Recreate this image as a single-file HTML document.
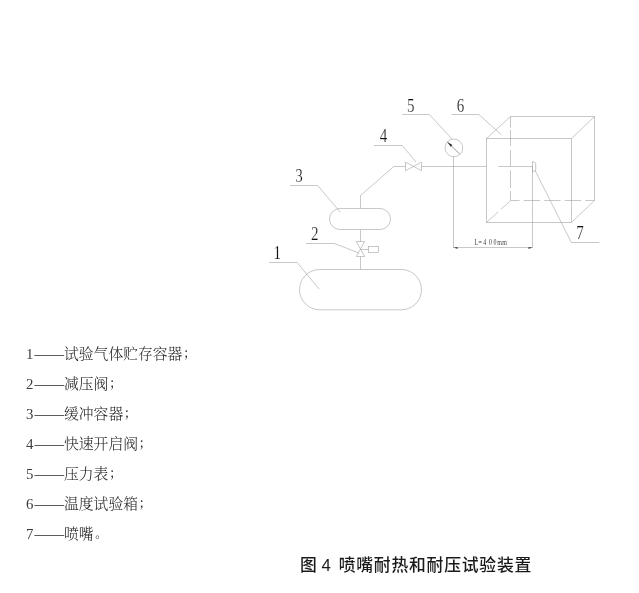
<!DOCTYPE html>
<html lang="zh-CN">
<head>
<meta charset="utf-8">
<title>图 4 喷嘴耐热和耐压试验装置</title>
<style>
html,body{margin:0;padding:0;background:#fff;}
body{width:639px;height:593px;position:relative;overflow:hidden;}
svg{position:absolute;left:0;top:0;will-change:transform;}
.ln{fill:none;stroke:#a2a2a2;stroke-width:0.6;}
.num{font-family:"Liberation Serif","Noto Serif CJK SC",serif;font-size:19.3px;fill:#111;stroke:#fff;stroke-width:0.22px;paint-order:fill stroke;}
.dim{font-family:"Liberation Serif","Noto Serif CJK SC",serif;font-size:9px;fill:#3a3a3a;}
.leg{position:absolute;left:27px;margin:0;white-space:nowrap;font-family:"Liberation Serif","Noto Serif CJK SC",serif;font-size:14.8px;line-height:20px;color:#222;font-weight:300;will-change:transform;}
.cap{position:absolute;left:300.4px;top:553.9px;margin:0;white-space:nowrap;font-family:"Liberation Sans","Noto Sans CJK SC",sans-serif;font-size:16.8px;letter-spacing:0.8px;line-height:24px;color:#1a1a1a;font-weight:500;will-change:transform;}
.cap span{display:inline-block;width:10px;margin:0 2.13px 0 -1.97px;letter-spacing:0;text-align:center;}
.leg b{font-weight:inherit;color:#3c3c3c;margin:0 1px 0 -1px;}
.leg i{font-style:normal;display:inline-block;font-size:12px;font-weight:500;width:15px;position:relative;left:0.8px;top:-1.2px;}
.leg i.d{left:1.6px;top:-0.6px;}
</style>
</head>
<body>
<svg width="639" height="593" viewBox="0 0 639 593">
<g class="ln">
<!-- tank 1 -->
<rect x="299.5" y="269.5" width="122" height="40.3" rx="20.15" ry="20.15"/>
<!-- pipe tank1 - valve2 - tank3 -->
<path d="M360.5 269.5V256.5M360.5 241.5V229.5"/>
<!-- valve 2 -->
<path d="M356.3 241.5H364.6L356.3 256.5H364.6Z"/>
<path d="M360.5 249.5H368.5"/>
<rect x="368.5" y="246.5" width="10" height="6"/>
<!-- tank 3 -->
<rect x="329.5" y="208.5" width="61" height="21" rx="10.5" ry="10.5"/>
<!-- pipe up from tank3 -->
<path d="M360.5 208.5V195.5L393.8 166.5H405.5"/>
<!-- valve 4 -->
<path d="M405.5 162.1V170.7L421.5 162.1V170.7Z"/>
<!-- main pipe -->
<path d="M421.5 166.5H486.5"/>
<path d="M498.3 166.5H532.5"/>
<!-- gauge 5 -->
<circle cx="453.9" cy="147.9" r="8.85"/>
<path d="M453.5 156.8V248"/>
<!-- box front -->
<rect x="486.5" y="138.5" width="85" height="84"/>
<!-- box back solid -->
<path d="M486.5 138.5L510.5 116.5H594.5V200.5L571.5 222.5M571.5 138.5L594.5 116.5"/>
<!-- nozzle -->
<path d="M532.5 161.5V171.8L535.7 170.5V163.1Z"/>
<path d="M532.5 166.5V248"/>
<!-- dimension -->
<path d="M453.5 247.5H532.5"/>
<!-- leaders -->
<path d="M269.1 262.5H297.1L319.3 289.3"/>
<path d="M306.1 243.5H334.4L358.4 252.8"/>
<path d="M290.1 185.5H317.7L340.3 212.2"/>
<path d="M373.9 145.5H402.3L415.9 162"/>
<path d="M402.1 114.5H429.2L452 138.9"/>
<path d="M451.4 114.5H478.8L501.4 134.8"/>
<path d="M534.9 170.2L571.4 242.5H599.3"/>
</g>
<g class="ln" stroke-dasharray="16.4 4.1">
<path d="M510.5 116.5V127.7M510.5 129.8V146.1M510.5 150V166.5M510.5 170.3V187.9M510.5 191V200.5" stroke-dasharray="none"/>
<path d="M510.5 200.5H594.5" stroke-dashoffset="7.3"/>
<path d="M510.5 200.5L486.5 222.5" stroke-dashoffset="3.5"/>
</g>
<path d="M447.4 142.1L459.6 153.9" fill="none" stroke="#8a8a8a" stroke-width="0.9"/>
<g fill="#2a2a2a" stroke="none">
<path d="M447.4 142.1L450.7 146.7L452.3 145.1Z"/>
</g>
<g fill="#444" stroke="none">
<path d="M453.7 247.6L457.5 246.9V248.9Z"/>
<path d="M532.3 247.6L528.5 246.9V248.9Z"/>
</g>
<g class="num">
<text transform="translate(273.5 259.0) scale(0.78 1)">1</text>
<text transform="translate(310.9 240.1) scale(0.78 1)">2</text>
<text transform="translate(295.2 182.4) scale(0.78 1)">3</text>
<text transform="translate(379.8 142.1) scale(0.78 1)">4</text>
<text transform="translate(407.0 112.0) scale(0.78 1)">5</text>
<text transform="translate(456.7 112.0) scale(0.78 1)">6</text>
<text transform="translate(576.3 239.4) scale(0.78 1)">7</text>
</g>
<text class="dim" transform="translate(474.4 245.3) scale(0.66 1)" x="0 6.4 13.5 22.3 28.9 34.8 42.3">L=400mm</text>
</svg>
<p class="leg" style="top:344px"><b>1</b>——试验气体贮存容器<i>；</i></p>
<p class="leg" style="top:374px"><b>2</b>——减压阀<i>；</i></p>
<p class="leg" style="top:404px"><b>3</b>——缓冲容器<i>；</i></p>
<p class="leg" style="top:434px"><b>4</b>——快速开启阀<i>；</i></p>
<p class="leg" style="top:464px"><b>5</b>——压力表<i>；</i></p>
<p class="leg" style="top:494px"><b>6</b>——温度试验箱<i>；</i></p>
<p class="leg" style="top:524px"><b>7</b>——喷嘴<i class="d">。</i></p>
<p class="cap">图 <span>4</span> 喷嘴耐热和耐压试验装置</p>
</body>
</html>
